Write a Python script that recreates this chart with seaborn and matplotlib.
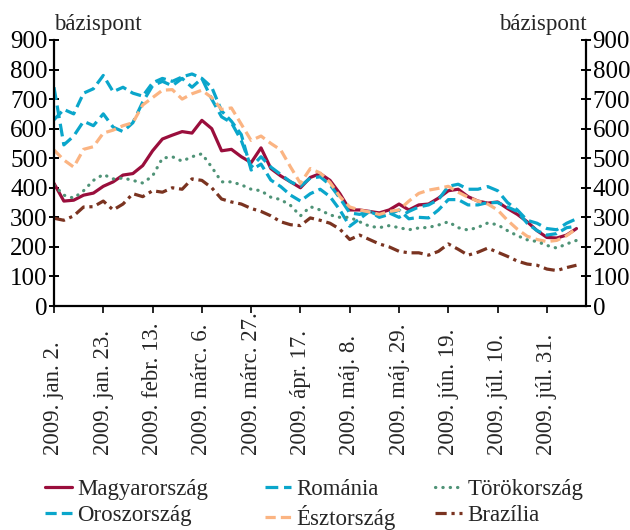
import numpy as np
import pandas as pd
import matplotlib
matplotlib.use("Agg")
import matplotlib.pyplot as plt
import seaborn as sns

# napok (munkanap index, 3 naponként) 2009. jan. 2-tól
nap = list(range(0, 160, 3))

magyarorszag = [415, 355, 358, 375, 382, 405, 420, 443, 448, 475, 525, 565, 578, 590, 585, 628,
                600, 525, 530, 505, 485, 535, 465, 440, 420, 400, 435, 448, 425, 380, 325, 325,
                320, 315, 325, 345, 325, 342, 345, 365, 390, 395, 370, 355, 348, 352, 330, 310,
                285, 255, 232, 230, 240, 262]
romania = [740, 545, 575, 625, 610, 650, 605, 590, 620, 690, 745, 760, 745, 770, 740, 770,
           700, 640, 620, 560, 470, 505, 470, 445, 420, 405, 433, 437, 410, 365, 315, 310,
           320, 305, 315, 300, 320, 335, 342, 360, 405, 412, 395, 395, 404, 390, 350, 325,
           290, 280, 262, 258, 280, 295]
torokorszag = [409, 375, 365, 390, 425, 445, 430, 433, 425, 416, 440, 500, 505, 490, 505, 515,
               470, 420, 420, 410, 395, 390, 368, 360, 340, 305, 336, 325, 308, 300, 300, 285,
               270, 265, 272, 265, 258, 264, 266, 274, 285, 265, 257, 266, 281, 275, 255, 238,
               224, 218, 205, 196, 210, 222]
oroszorszag = [630, 665, 650, 720, 735, 780, 725, 740, 720, 710, 755, 770, 760, 775, 785, 770,
               740, 660, 625, 580, 460, 480, 426, 404, 375, 355, 380, 395, 370, 325, 270, 295,
               320, 300, 310, 325, 295, 300, 298, 325, 360, 360, 342, 342, 350, 350, 335, 320,
               280, 255, 240, 245, 265, 270]
esztorszag = [528, 494, 470, 530, 539, 585, 595, 610, 620, 680, 705, 730, 732, 700, 718, 730,
              705, 665, 670, 615, 560, 575, 550, 528, 470, 415, 465, 450, 418, 370, 335, 325,
              318, 310, 320, 325, 355, 381, 392, 398, 405, 385, 368, 355, 345, 325, 290, 260,
              236, 225, 218, 222, 238, 262]
brazilia = [297, 290, 305, 335, 336, 355, 325, 345, 380, 370, 390, 385, 400, 395, 430, 425,
            400, 362, 352, 345, 330, 320, 305, 285, 275, 272, 298, 290, 280, 260, 225, 240,
            225, 210, 200, 185, 180, 180, 172, 185, 210, 192, 172, 182, 196, 182, 168, 152,
            142, 138, 125, 120, 130, 138]

tick_nap = [0, 15, 30, 45, 60, 75, 90, 105, 120, 135, 150]
tick_cimkek = ["2009. jan. 2.", "2009. jan. 23.", "2009. febr. 13.", "2009. márc. 6.",
               "2009. márc. 27.", "2009. ápr. 17.", "2009. máj. 8.", "2009. máj. 29.",
               "2009. jún. 19.", "2009. júl. 10.", "2009. júl. 31."]

sns.set_style("ticks")
plt.rcParams['font.family'] = ['Liberation Serif', 'DejaVu Serif']
plt.rcParams['font.size'] = 17

fig = plt.figure(figsize=(6.3, 5.3), dpi=100)
ax = fig.add_axes([0.0857, 0.4226, 0.845, 0.502])

sorozatok = [
    ("Magyarország", magyarorszag, "#9a0e3c", "-", "butt"),
    ("Oroszország", oroszorszag, "#0aa6cb", (0, (3.5, 1.6)), "butt"),
    ("Románia", romania, "#0aa6cb", (0, (4.0, 1.8)), "butt"),
    ("Észtország", esztorszag, "#fbb482", (0, (3.2, 1.6)), "butt"),
    ("Törökország", torokorszag, "#4f9377", (0, (0.1, 2.2)), "round"),
    ("Brazília", brazilia, "#7a3320", (0, (3.5, 1.5, 1.0, 1.5)), "butt"),
]

for nev, ertek, szin, stilus, cap in sorozatok:
    sns.lineplot(x=nap, y=ertek, ax=ax, color=szin, linewidth=2.3, linestyle=stilus,
                 dash_capstyle=cap, label=nev)

if ax.get_legend() is not None:
    ax.get_legend().remove()

ax.set_xlim(0, 162)
ax.set_ylim(0, 900)
ax.set_yticks(range(0, 901, 100))
ax.set_xticks(tick_nap)
# a címkék alja egy vonalban van
ax.set_xticklabels(tick_cimkek, rotation=90, va="bottom", ha="center")
ax.set_xlabel("")
ax.set_ylabel("")

for s in ["left", "right", "bottom"]:
    ax.spines[s].set_visible(True)
    ax.spines[s].set_linewidth(1.6)
    ax.spines[s].set_color("black")
ax.spines["top"].set_visible(False)

ax.yaxis.set_ticks_position("both")
ax.tick_params(axis="y", which="both", labelleft=True, labelright=True, direction="inout",
               length=7, width=1.4, pad=1, labelsize=18, colors="black")
ax.tick_params(axis="x", direction="out", length=5, width=1.4, pad=102, labelsize=16.5)

fig.text(0.085, 0.934, "bázispont", fontsize=16.5, ha="left", va="bottom")
fig.text(0.931, 0.934, "bázispont", fontsize=16.5, ha="right", va="bottom")

# jelmagyarázat: három oszlop külön pozícióval
handles, labels = ax.get_legend_handles_labels()
h = dict(zip(labels, handles))
oszlopok = [(["Magyarország", "Oroszország"], 0.072),
            (["Románia", "Észtország"], 0.420),
            (["Törökország", "Brazília"], 0.691)]
for nevek, xpos in oszlopok:
    fig.legend([h[n] for n in nevek], nevek, loc="upper left", bbox_to_anchor=(xpos, 0.096),
               frameon=False, handlelength=1.15, handletextpad=0.25, labelspacing=0.2,
               borderpad=0, borderaxespad=0, fontsize=16.5)

fig.savefig("out.png", dpi=100)
